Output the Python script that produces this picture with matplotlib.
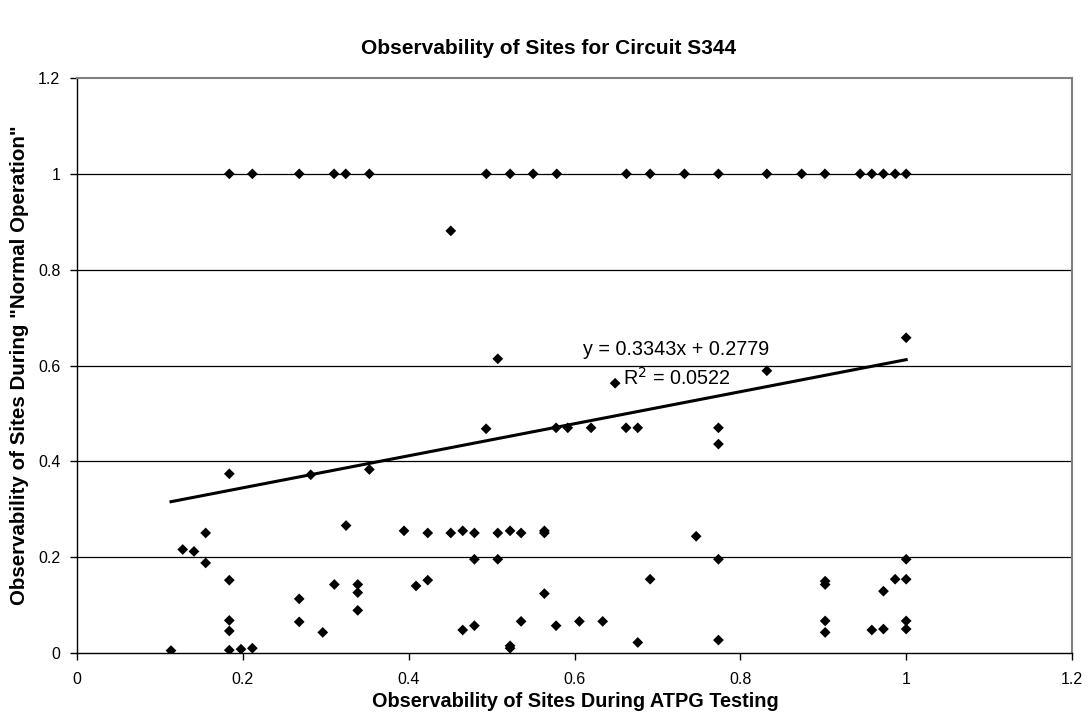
import matplotlib
matplotlib.use("Agg")
import matplotlib.pyplot as plt
import numpy as np

plt.rcParams['font.family'] = ['Liberation Sans', 'DejaVu Sans']

# Observability during ATPG testing (x) vs. during normal operation (y)
atpg_obs = [
    # sites fully observable in normal operation
    0.1837, 0.2115, 0.268, 0.310, 0.3241, 0.3526, 0.4937, 0.5223, 0.5501, 0.5786,
    0.6626, 0.6912, 0.7326, 0.7736, 0.832, 0.874, 0.902, 0.9445, 0.9586, 0.9726,
    0.9867, 1.0,
    # remaining sites
    0.4508, 0.5075, 0.649, 1.0, 0.832,
    0.1134, 0.1837, 0.2819, 0.3526, 0.1275, 0.1411, 0.1552, 0.1552, 0.1837, 0.1837,
    0.1837, 0.1837, 0.1978, 0.2115, 0.268, 0.268, 0.2964, 0.3104, 0.3245, 0.3386,
    0.3386, 0.3386,
    0.4934, 0.5778, 0.5919, 0.620, 0.6622, 0.6763, 0.7736, 0.7736,
    0.3944, 0.423, 0.4508, 0.4652, 0.4793, 0.5075, 0.5223, 0.5356, 0.5637, 0.5637,
    0.7467, 0.4793, 0.5075, 0.7736, 0.4089, 0.423, 0.5637, 0.6912,
    0.4652, 0.4793, 0.5356, 0.5223, 0.5223, 0.5778, 0.6059, 0.634, 0.6763, 0.7736,
    0.9023, 0.9023, 0.9023, 0.9023, 0.9586, 0.9726, 0.9726, 0.9867, 1.0, 1.0,
    1.0, 1.0,
]
normal_obs = [
    1.0, 1.0, 1.0, 1.0, 1.0, 1.0, 1.0, 1.0, 1.0, 1.0,
    1.0, 1.0, 1.0, 1.0, 1.0, 1.0, 1.0, 1.0, 1.0, 1.0,
    1.0, 1.0,
    0.881, 0.614, 0.563, 0.658, 0.589,
    0.005, 0.374, 0.372, 0.383, 0.216, 0.212, 0.2505, 0.188, 0.152, 0.068,
    0.046, 0.006, 0.008, 0.010, 0.113, 0.065, 0.043, 0.143, 0.266, 0.143,
    0.126, 0.089,
    0.468, 0.470, 0.470, 0.470, 0.470, 0.470, 0.470, 0.436,
    0.255, 0.2505, 0.2505, 0.255, 0.2505, 0.2505, 0.255, 0.2505, 0.2505, 0.255,
    0.2436, 0.1956, 0.1956, 0.1956, 0.140, 0.152, 0.124, 0.154,
    0.048, 0.057, 0.066, 0.010, 0.015, 0.057, 0.066, 0.066, 0.022, 0.027,
    0.150, 0.143, 0.067, 0.043, 0.048, 0.050, 0.129, 0.154, 0.154, 0.1956,
    0.067, 0.050,
]

# Linear trendline as reported
slope = 0.3343
intercept = 0.2779
r_squared = 0.0522

tick_values = [0, 0.2, 0.4, 0.6, 0.8, 1.0, 1.2]
tick_labels = ["0", "0.2", "0.4", "0.6", "0.8", "1", "1.2"]

fig = plt.figure(figsize=(10.89, 7.21), dpi=100)
ax = fig.add_axes([0.0707, 0.0943, 0.9137, 0.7975])

ax.set_xlim(0, 1.2)
ax.set_ylim(0, 1.2)

# horizontal gridlines
for yv in tick_values[1:-1]:
    ax.axhline(yv, color='black', lw=0.9, zorder=1)

ax.scatter(atpg_obs, normal_obs, marker='D', s=30, color='black',
           edgecolors='none', zorder=3)

xfit = np.array([min(atpg_obs), max(atpg_obs)])
ax.plot(xfit, slope * xfit + intercept, color='black', lw=2.2, zorder=2)

ax.text(0.7226, 0.6326, f"y = {slope:.4f}x + {intercept:.4f}",
        ha='center', va='center', fontsize=14.2)
ax.text(0.7232, 0.574, f"R$^2$ = {r_squared:.4f}",
        ha='center', va='center', fontsize=14.2)

ax.set_xticks(tick_values)
ax.set_xticklabels(tick_labels)
ax.set_yticks(tick_values)
ax.set_yticklabels(tick_labels)
ax.tick_params(direction='out', length=5, width=1, labelsize=11.5,
               color='black')
ax.tick_params(axis='x', pad=9)
ax.tick_params(axis='y', pad=7)

for side in ('left', 'bottom'):
    ax.spines[side].set_color('black')
    ax.spines[side].set_linewidth(1.0)
for side in ('top', 'right'):
    ax.spines[side].set_color('#808080')
    ax.spines[side].set_linewidth(1.5)

ax.set_xlabel("Observability of Sites During ATPG Testing",
              fontsize=14.3, fontweight='bold')
ax.xaxis.set_label_coords(0.5005, -0.0852)
ax.set_ylabel('Observability of Sites During "Normal Operation"',
              fontsize=14.8, fontweight='bold')
ax.yaxis.set_label_coords(-0.0573, 0.5)
ax.xaxis.label.set_va('center')
ax.yaxis.label.set_va('center')

fig.text(0.5037, 0.9334, "Observability of Sites for Circuit S344",
         ha='center', va='center', fontsize=15, fontweight='bold')

fig.savefig("out.png", dpi=100)
